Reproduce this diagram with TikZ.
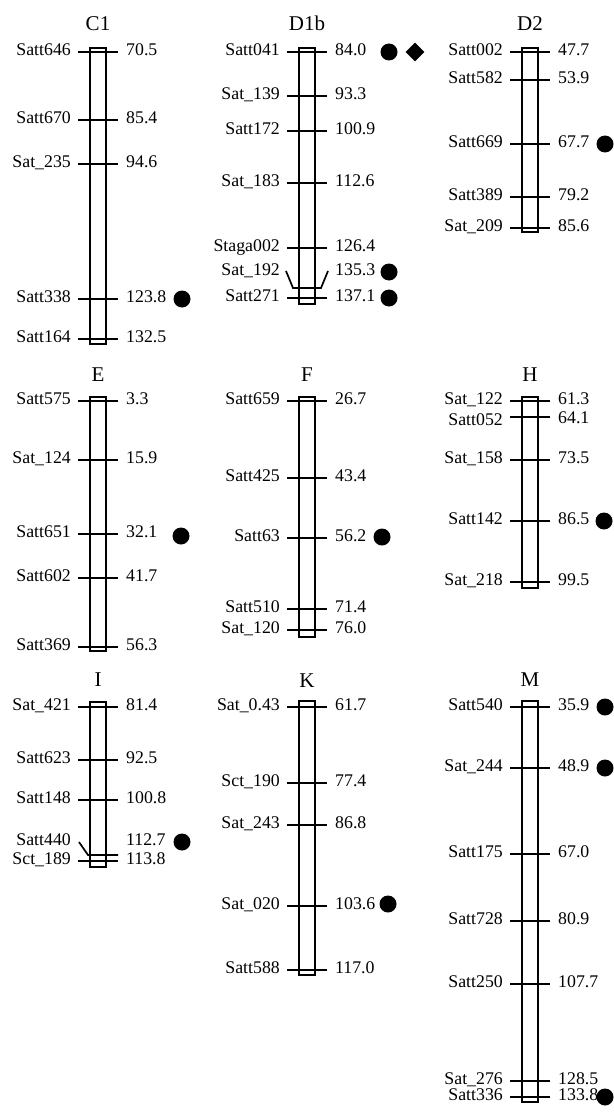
\documentclass[tikz,border=0pt]{standalone}
\usepackage{fontspec}
\setmainfont{Liberation Serif}
\usetikzlibrary{shapes.geometric}
\newcommand\chrbar[4]{\draw[ln] (#2-8,#3) rectangle (#2+8,#4);
  \coordinate (#1) at (#2,#3);}
\newcommand\chrmark[5]{\draw[ln] (#2-20,#3) -- (#2+20,#3);
  \node[lbl, anchor=east] (#1l) at (#2-27,#3) {#4};
  \node[lbl, anchor=west] (#1r) at (#2+28,#3) {#5};}
\begin{document}
\begin{tikzpicture}[x=1pt,y=-1pt,
  lbl/.style={font=\fontsize{17.8}{20}\selectfont, inner xsep=0pt, inner ysep=0pt, text height=0.66em, text depth=0pt},
  ttl/.style={font=\fontsize{21}{22}\selectfont, inner sep=0pt, text height=0.66em, text depth=0pt},
  ln/.style={line width=1.7pt},
  dot/.style={circle, fill=black, minimum size=17pt, inner sep=0pt},
  dia/.style={diamond, fill=black, minimum size=19pt, inner sep=0pt}]
\useasboundingbox[fill=white] (0,0) rectangle (613,1113);
% ---------- C1
\node[ttl] (tC1) at (98,27) {C1};
\chrbar{bC1}{98}{48}{344}
\chrmark{c1a}{98}{52}{Satt646}{70.5}
\chrmark{c1b}{98}{120}{Satt670}{85.4}
\chrmark{c1c}{98}{164}{Sat\_235}{94.6}
\chrmark{c1d}{98}{299}{Satt338}{123.8}
\chrmark{c1e}{98}{339}{Satt164}{132.5}
\node[dot] (dC1a) at (182,299) {};
% ---------- D1b
\node[ttl] (tD1b) at (307,27) {D1b};
\chrbar{bD1b}{307}{48}{304}
\chrmark{d1a}{307}{52}{Satt041}{84.0}
\chrmark{d1b}{307}{96}{Sat\_139}{93.3}
\chrmark{d1c}{307}{131}{Satt172}{100.9}
\chrmark{d1d}{307}{183}{Sat\_183}{112.6}
\chrmark{d1e}{307}{248}{Staga002}{126.4}
\draw[ln] (286,271) -- (293,288) -- (321,288) -- (328,271);
\node[lbl, anchor=east] (d1fl) at (280,272) {Sat\_192};
\node[lbl, anchor=west] (d1fr) at (335,272) {135.3};
\chrmark{d1g}{307}{298}{Satt271}{137.1}
\node[dot] (dD1a) at (389,52) {};
\node[dia] (dD1b) at (415,52) {};
\node[dot] (dD1c) at (389,272) {};
\node[dot] (dD1d) at (389,298) {};
% ---------- D2
\node[ttl] (tD2) at (530,27) {D2};
\chrbar{bD2}{530}{48}{232}
\chrmark{d2a}{530}{52}{Satt002}{47.7}
\chrmark{d2b}{530}{80}{Satt582}{53.9}
\chrmark{d2c}{530}{144}{Satt669}{67.7}
\chrmark{d2d}{530}{197}{Satt389}{79.2}
\chrmark{d2e}{530}{228}{Sat\_209}{85.6}
\node[dot] (dD2a) at (605,144) {};
% ---------- E
\node[ttl] (tE) at (98,378) {E};
\chrbar{bE}{98}{397}{651}
\chrmark{ea}{98}{401}{Satt575}{3.3}
\chrmark{eb}{98}{460}{Sat\_124}{15.9}
\chrmark{ec}{98}{534}{Satt651}{32.1}
\chrmark{ed}{98}{578}{Satt602}{41.7}
\chrmark{ee}{98}{647}{Satt369}{56.3}
\node[dot] (dEa) at (181,536) {};
% ---------- F
\node[ttl] (tF) at (307,378) {F};
\chrbar{bF}{307}{397}{637}
\chrmark{fa}{307}{401}{Satt659}{26.7}
\chrmark{fb}{307}{478}{Satt425}{43.4}
\chrmark{fc}{307}{538}{Satt63}{56.2}
\chrmark{fd}{307}{609}{Satt510}{71.4}
\chrmark{fe}{307}{630}{Sat\_120}{76.0}
\node[dot] (dFa) at (382,537) {};
% ---------- H
\node[ttl] (tH) at (530,378) {H};
\chrbar{bH}{530}{397}{588}
\chrmark{ha}{530}{401}{Sat\_122}{61.3}
\draw[ln] (510,417) -- (550,417);
\node[lbl, anchor=east] (hbl) at (503,422) {Satt052};
\node[lbl, anchor=west] (hbr) at (558,420) {64.1};
\chrmark{hc}{530}{460}{Sat\_158}{73.5}
\chrmark{hd}{530}{521}{Satt142}{86.5}
\chrmark{he}{530}{582}{Sat\_218}{99.5}
\node[dot] (dHa) at (604,521) {};
% ---------- I
\node[ttl] (tI) at (98,683) {I};
\chrbar{bI}{98}{702}{867}
\chrmark{ia}{98}{707}{Sat\_421}{81.4}
\chrmark{ib}{98}{760}{Satt623}{92.5}
\chrmark{ic}{98}{800}{Satt148}{100.8}
\draw[ln] (79,842) -- (88,855) -- (118,855);
\node[lbl, anchor=east] (idl) at (71,842) {Satt440};
\node[lbl, anchor=west] (idr) at (126,842) {112.7};
\chrmark{ie}{98}{861}{Sct\_189}{113.8}
\node[dot] (dIa) at (182,842) {};
% ---------- K
\node[ttl] (tK) at (307,684) {K};
\chrbar{bK}{307}{701}{975}
\chrmark{ka}{307}{707}{Sat\_0.43}{61.7}
\chrmark{kb}{307}{783}{Sct\_190}{77.4}
\chrmark{kc}{307}{825}{Sat\_243}{86.8}
\chrmark{kd}{307}{906}{Sat\_020}{103.6}
\chrmark{ke}{307}{970}{Satt588}{117.0}
\node[dot] (dKa) at (388,904) {};
% ---------- M
\node[ttl] (tM) at (530,683) {M};
\chrbar{bM}{530}{701}{1102}
\chrmark{ma}{530}{707}{Satt540}{35.9}
\chrmark{mb}{530}{768}{Sat\_244}{48.9}
\chrmark{mc}{530}{854}{Satt175}{67.0}
\chrmark{md}{530}{921}{Satt728}{80.9}
\chrmark{me}{530}{984}{Satt250}{107.7}
\chrmark{mf}{530}{1081}{Sat\_276}{128.5}
\chrmark{mg}{530}{1097}{Satt336}{133.8}
\node[dot] (dMa) at (605,707) {};
\node[dot] (dMb) at (605,768) {};
\node[dot] (dMc) at (605,1097) {};
\end{tikzpicture}
\end{document}
